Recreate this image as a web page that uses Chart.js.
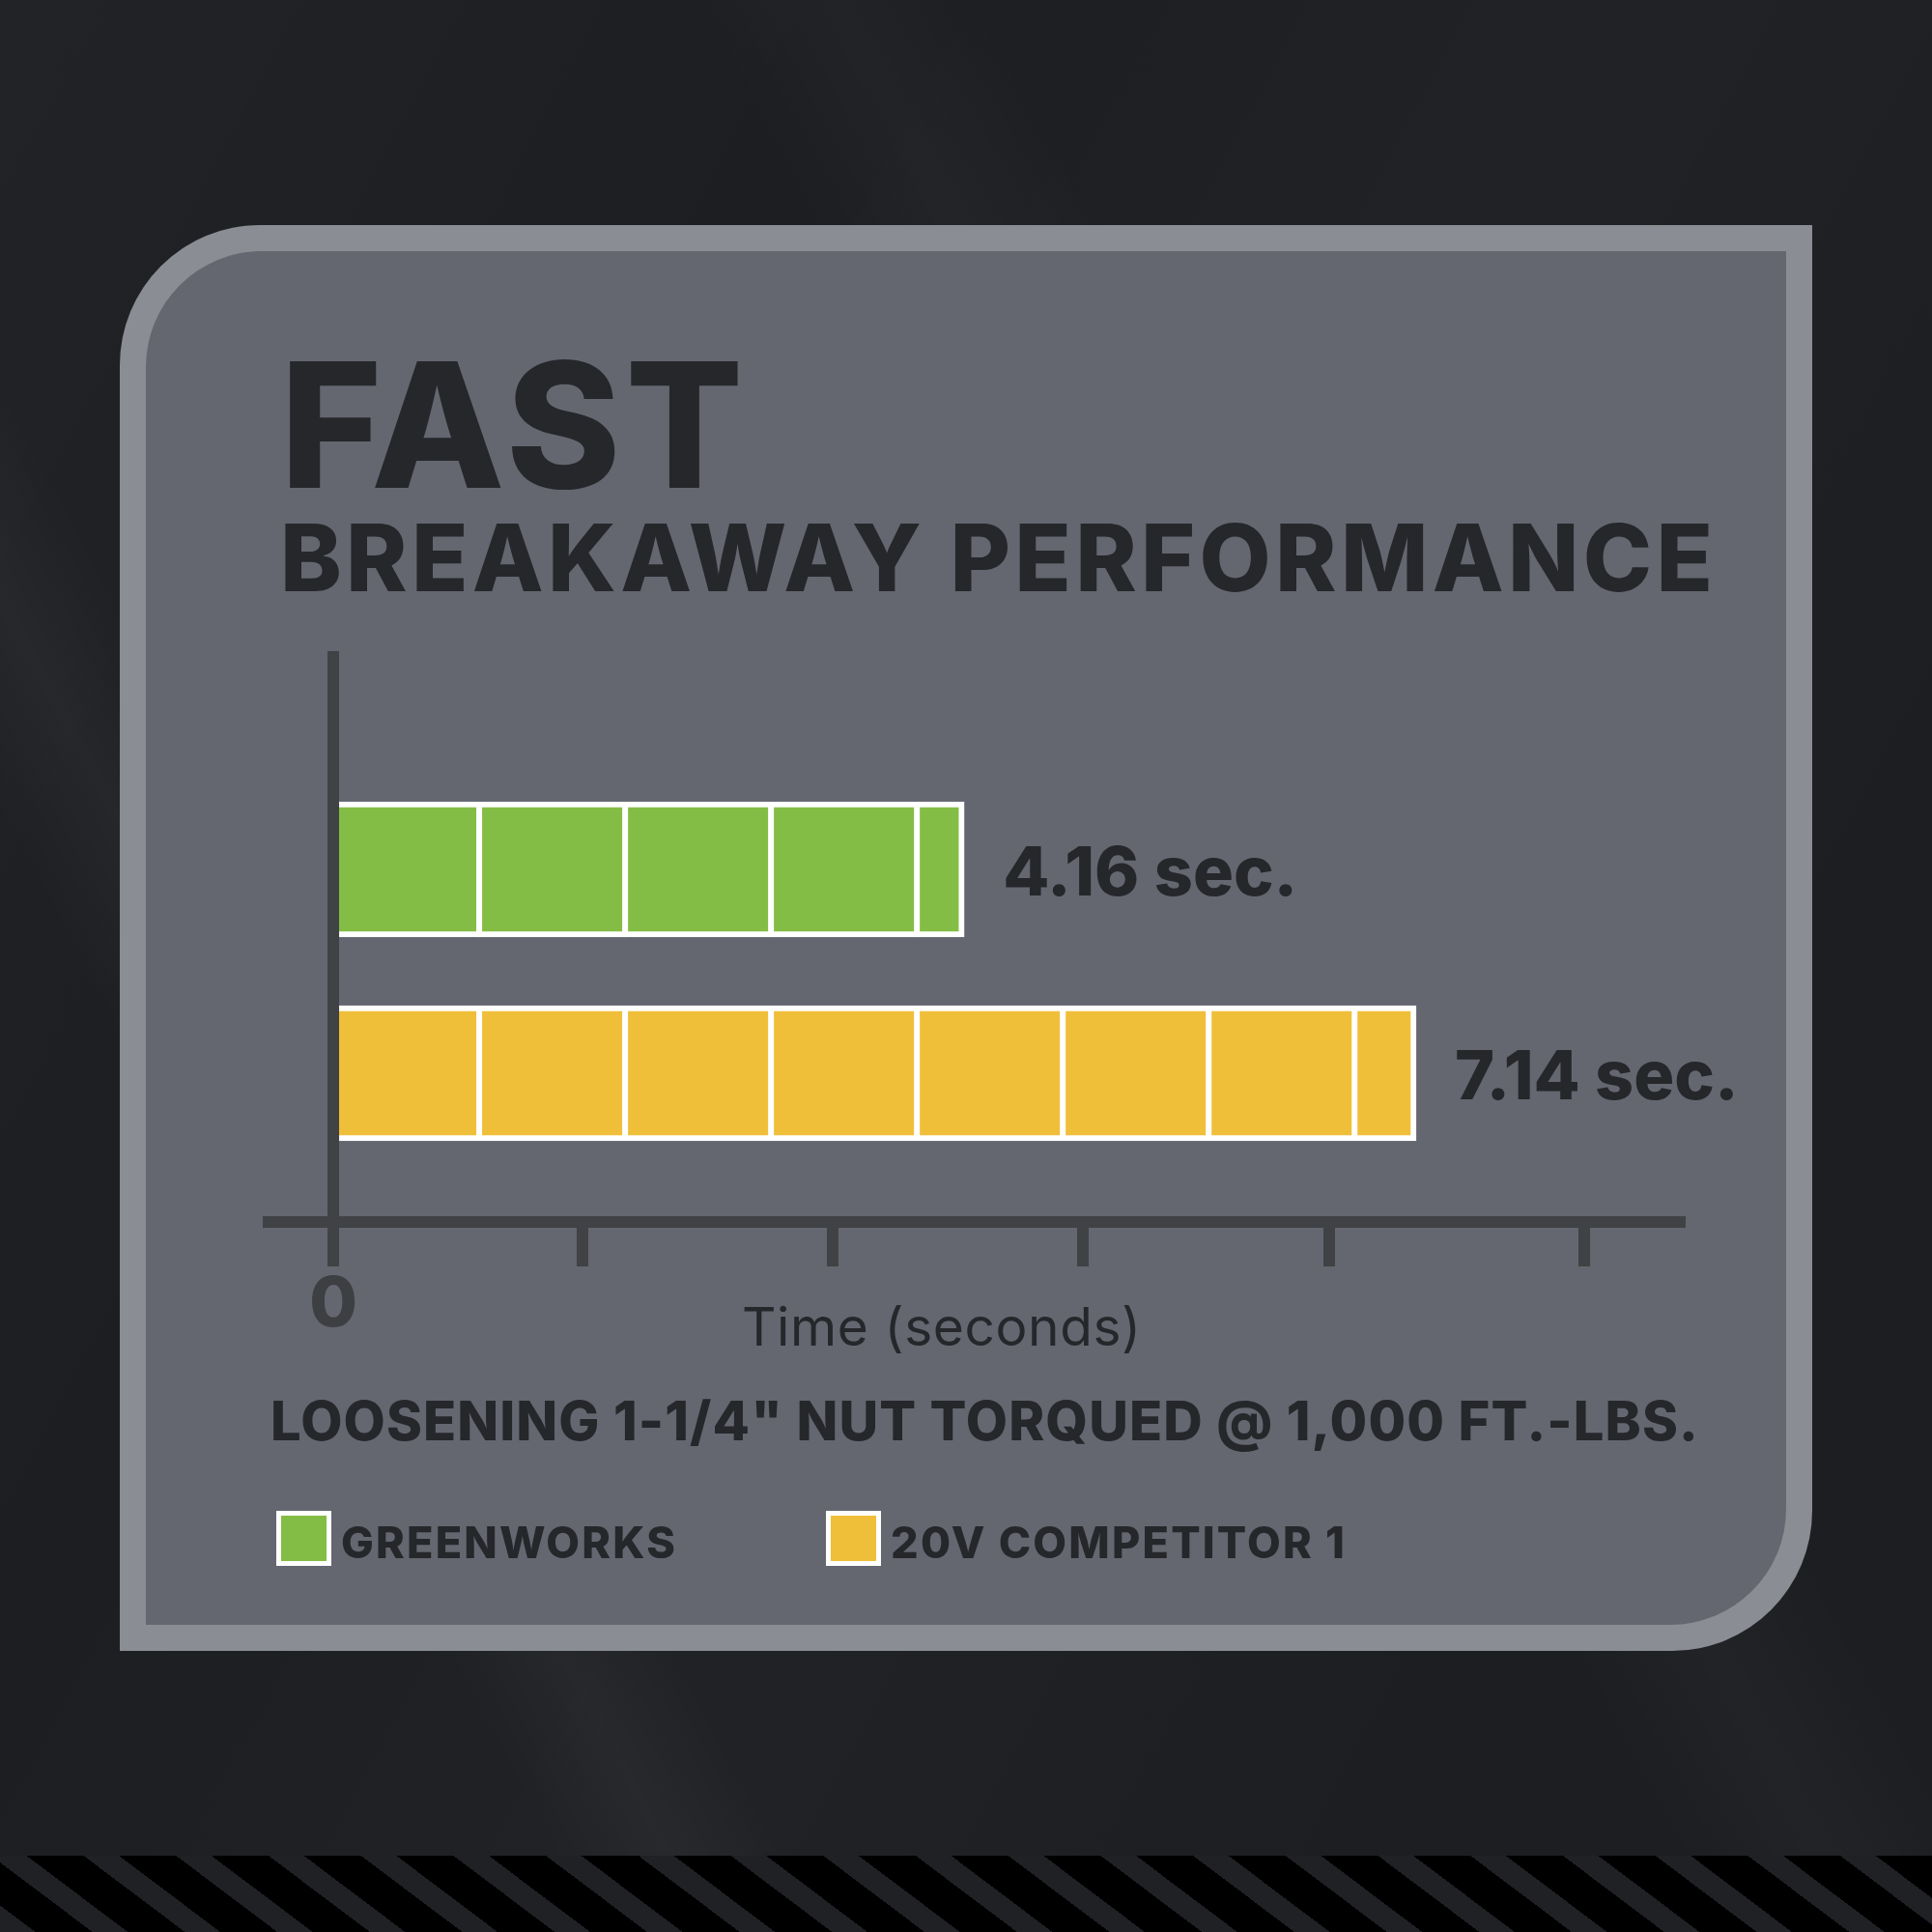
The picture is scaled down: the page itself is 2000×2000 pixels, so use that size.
<!DOCTYPE html>
<html>
<head>
<meta charset="utf-8">
<title>Fast Breakaway Performance</title>
<script src="https://cdn.jsdelivr.net/npm/chart.js@4.4.1/dist/chart.umd.min.js"></script>
<style>
  html, body { margin: 0; padding: 0; }
  body {
    width: 2000px;
    height: 2000px;
    position: relative;
    overflow: hidden;
    font-family: Inter, "Liberation Sans", sans-serif;
    color: #25272b;
    background:
      linear-gradient(62deg, rgba(255,255,255,0) 20%, rgba(255,255,255,0.03) 24%, rgba(255,255,255,0) 28%),
      linear-gradient(62deg, rgba(255,255,255,0) 58%, rgba(255,255,255,0.025) 63%, rgba(255,255,255,0) 68%),
      linear-gradient(118deg, rgba(255,255,255,0.025) 0%, rgba(255,255,255,0) 30%, rgba(255,255,255,0.02) 55%, rgba(255,255,255,0) 80%),
      #1d1e21;
  }
  .stripes {
    position: absolute; left: 0; top: 1921px; width: 2000px; height: 79px;
    background: repeating-linear-gradient(37deg, #1f2124 0 22px, #000 22px 57.6px);
  }
  .frame {
    position: absolute; left: 124px; top: 233px; width: 1752px; height: 1476px;
    background: #8a8d94;
    border-radius: 145px 0 145px 0;
  }
  .panel {
    position: absolute; left: 151px; top: 260px; width: 1698px; height: 1422px;
    background: #646770;
    border-radius: 120px 0 120px 0;
  }
  #chart { position: absolute; left: 0; top: 0; }
  .txt { position: absolute; white-space: nowrap; line-height: 1; font-weight: 800; }
  .fast { left: 290px; top: 350px; font-size: 180px; letter-spacing: 5px; }
  .sub { left: 290px; top: 529px; font-size: 96px; letter-spacing: 4.3px; }
  .axis-title { left: 768px; top: 1346px; font-size: 55px; font-weight: 400; letter-spacing: 0.6px; }
  .note { left: 280px; top: 1443px; font-size: 56px; letter-spacing: 1.1px; }
  #legend { position: absolute; left: 286px; top: 1564px; display: flex; }
  .item { display: flex; align-items: flex-end; width: 569px; }
  .swatch { width: 57px; height: 57px; box-sizing: border-box; border: 5px solid #fff; }
  .item span { font-size: 45px; font-weight: 800; line-height: 1; margin-left: 10px; margin-bottom: 2px; letter-spacing: 2.2px; }
</style>
</head>
<body>
<div class="stripes"></div>
<div class="frame"></div>
<div class="panel"></div>
<canvas id="chart" width="2000" height="2000"></canvas>
<div class="txt fast">FAST</div>
<div class="txt sub">BREAKAWAY PERFORMANCE</div>
<div class="txt axis-title">Time (seconds)</div>
<div class="txt note">LOOSENING 1-1/4" NUT TORQUED @ 1,000 FT.-LBS.</div>
<div id="legend"></div>
<script>
const categories = ['GREENWORKS', '20V COMPETITOR 1'];
const breakawaySeconds = [4.16, 7.14];
const tickValues = [0, 1.64, 3.29, 4.94, 6.57, 8.25];

const barColors = ['#84bd45', '#f0bf3a'];
const ink = '#25272b';
const axisColor = '#414245';
const fontFamily = 'Inter, "Liberation Sans", sans-serif';
const blockStep = 0.962; // one white-ruled block inside the bars, in seconds

// white rules that split each bar into blocks
const barBlocks = {
  id: 'barBlocks',
  afterDatasetsDraw(chart) {
    const { ctx, scales: { x } } = chart;
    ctx.save();
    ctx.fillStyle = '#ffffff';
    chart.getDatasetMeta(0).data.forEach((bar) => {
      const { x: end, y, height } = bar.getProps(['x', 'y', 'height'], true);
      for (let k = 1; ; k++) {
        const px = x.getPixelForValue(k * blockStep);
        if (px > end - 20) break;
        ctx.fillRect(px - 3, y - height / 2, 6, height);
      }
    });
    ctx.restore();
  }
};

// "4.16 sec." next to each bar
const valueLabels = {
  id: 'valueLabels',
  afterDatasetsDraw(chart) {
    const { ctx } = chart;
    ctx.save();
    ctx.font = '800 70px ' + fontFamily;
    ctx.fillStyle = ink;
    ctx.textAlign = 'left';
    ctx.textBaseline = 'alphabetic';
    chart.getDatasetMeta(0).data.forEach((bar, i) => {
      const { x, y } = bar.getProps(['x', 'y'], true);
      ctx.fillText(breakawaySeconds[i].toFixed(2) + ' sec.', x + 40, y + 27);
    });
    ctx.restore();
  }
};

new Chart(document.getElementById('chart'), {
  type: 'bar',
  data: {
    labels: categories,
    datasets: [{
      label: 'Breakaway time',
      data: breakawaySeconds.map((v, i) => ({ x: v, y: i })),
      backgroundColor: barColors,
      borderColor: '#ffffff',
      borderWidth: 6,
      borderSkipped: 'start',
      barThickness: 140
    }]
  },
  options: {
    indexAxis: 'y',
    responsive: false,
    animation: false,
    devicePixelRatio: 1,
    layout: { padding: { left: 278, right: 261, top: 680, bottom: 609 } },
    plugins: {
      legend: { display: false },
      title: { display: false },
      tooltip: { enabled: false }
    },
    scales: {
      x: {
        type: 'linear',
        bounds: 'data',
        min: -0.427,
        max: 8.879,
        afterBuildTicks: (scale) => {
          scale.ticks = tickValues.map((v) => ({ value: v }));
        },
        grid: {
          drawOnChartArea: false,
          drawTicks: true,
          tickLength: 46,
          lineWidth: 12,
          color: axisColor
        },
        border: { display: true, width: 12, color: axisColor },
        ticks: {
          autoSkip: false,
          maxRotation: 0,
          padding: 4,
          color: '#3e3f43',
          font: { family: fontFamily, size: 72, weight: 800, lineHeight: 1 },
          callback: (value) => (value === 0 ? '0' : '')
        }
      },
      y: {
        type: 'linear',
        bounds: 'data',
        offset: false,
        reverse: true,
        min: -1.043,
        max: 1.73,
        position: { x: 0 },
        grid: { display: false },
        ticks: { display: false },
        border: { display: true, width: 12, color: axisColor, z: 1 }
      }
    }
  },
  plugins: [barBlocks, valueLabels]
});

// legend built from the same categories and colours
const legend = document.getElementById('legend');
categories.forEach((name, i) => {
  const item = document.createElement('div');
  item.className = 'item';
  const box = document.createElement('div');
  box.className = 'swatch';
  box.style.background = barColors[i];
  const label = document.createElement('span');
  label.textContent = name;
  item.appendChild(box);
  item.appendChild(label);
  legend.appendChild(item);
});
</script>
</body>
</html>
